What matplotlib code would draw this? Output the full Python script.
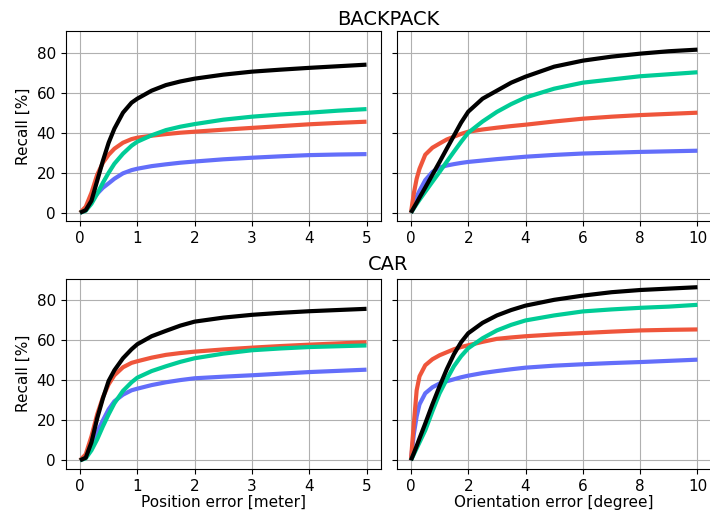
import matplotlib
matplotlib.use('Agg')
import matplotlib.pyplot as plt

# Recall curves
pos_err = [0, 0.1, 0.2, 0.3, 0.4, 0.5, 0.6, 0.75, 0.9, 1, 1.25, 1.5, 1.75, 2, 2.5, 3, 3.5, 4, 4.5, 5]
ori_err = [0, 0.1, 0.2, 0.3, 0.5, 0.75, 1, 1.25, 1.5, 1.75, 2, 2.5, 3, 3.5, 4, 5, 6, 7, 8, 9, 10]

# BACKPACK, position
bp_pos_blue  = [0, 1.5, 6, 9.5, 12.5, 14.7, 17, 19.7, 21.3, 22, 23.3, 24.2, 25, 25.6, 26.7, 27.5, 28.2, 28.8, 29.1, 29.3]
bp_pos_red   = [0, 3, 10, 19, 25, 29, 32, 35, 36.8, 37.5, 38.5, 39.3, 40, 40.5, 41.5, 42.4, 43.3, 44.2, 44.9, 45.5]
bp_pos_teal  = [0, 1, 4.5, 9.5, 15, 20, 24.5, 29.5, 33.5, 35.5, 38.7, 41.3, 43, 44.3, 46.5, 48, 49.1, 50, 51, 51.8]
bp_pos_black = [0, 1.3, 6, 16, 26, 35, 42, 50, 55, 57, 61, 63.8, 65.6, 67, 69, 70.5, 71.5, 72.4, 73.2, 74]

# BACKPACK, orientation
bp_ori_blue  = [0, 4.5, 8, 11, 16.3, 20.4, 22.6, 23.6, 24.3, 24.9, 25.4, 26.1, 26.8, 27.4, 28, 28.9, 29.6, 30, 30.4, 30.7, 31]
bp_ori_red   = [0, 9.6, 17, 22, 29, 32.5, 34.6, 36.6, 38, 39.4, 40.5, 41.6, 42.5, 43.3, 44, 45.6, 47, 48, 48.8, 49.4, 50]
bp_ori_teal  = [0, 2.2, 4.4, 6.5, 10.5, 15.5, 20.4, 25.5, 30.5, 35.4, 40, 45.6, 50.4, 54.3, 57.6, 62, 65, 66.6, 68.2, 69.2, 70.2]
bp_ori_black = [0, 2.5, 5, 7.6, 12.6, 19, 25.4, 32, 38.5, 45, 50.5, 57, 61, 65, 68, 73, 76, 78, 79.5, 80.7, 81.5]

# CAR, position
car_pos_blue  = [0, 2, 7.5, 14, 20, 25.5, 29.5, 32.8, 35, 35.8, 37.6, 39, 40.1, 41, 41.8, 42.5, 43.3, 44.1, 44.7, 45.3]
car_pos_red   = [0, 3, 12, 23, 31.5, 38, 42.5, 46.5, 48.7, 49.5, 51.3, 52.7, 53.6, 54.3, 55.4, 56.3, 57.1, 57.8, 58.4, 59]
car_pos_teal  = [0, 1, 5, 10.5, 17, 23, 28.5, 34.7, 39, 41.3, 44.6, 47, 49.2, 51, 53.3, 55, 55.9, 56.6, 57, 57.4]
car_pos_black = [0, 1.3, 9, 21, 31, 39.7, 45, 51, 55.5, 58, 62, 64.7, 67.3, 69.3, 71.3, 72.7, 73.7, 74.5, 75.1, 75.7]

# CAR, orientation
car_ori_blue  = [0, 13, 22, 28, 33.5, 36.5, 38.4, 39.5, 40.5, 41.5, 42.3, 43.6, 44.6, 45.5, 46.3, 47.3, 48, 48.6, 49.1, 49.7, 50.3]
car_ori_red   = [0, 18, 35, 42, 47.5, 50.5, 52.5, 54, 55.5, 56.6, 57.5, 59.2, 60.7, 61.4, 62, 62.9, 63.6, 64.3, 64.9, 65.2, 65.4]
car_ori_teal  = [0, 3, 6, 9, 15, 24.5, 33.5, 40.5, 47, 52, 56, 61, 64.9, 67.7, 69.9, 72.4, 74.4, 75.4, 76.2, 76.8, 77.7]
car_ori_black = [0, 3.5, 7.2, 11, 18.4, 28, 37, 45.5, 53, 59, 63.5, 68.7, 72.4, 75.1, 77.3, 80.2, 82.3, 84, 85.1, 85.8, 86.5]

colors = ['#636EFA', '#EF553B', '#00CC96', 'black']

fig, axes = plt.subplots(2, 2, figsize=(7.1, 5.12), dpi=100, sharey=True)
plt.subplots_adjust(left=0.0925, right=1.0025, top=0.9395, bottom=0.084,
                    wspace=0.05, hspace=0.3)

panels = [
    (axes[0, 0], pos_err, [bp_pos_blue, bp_pos_red, bp_pos_teal, bp_pos_black]),
    (axes[0, 1], ori_err, [bp_ori_blue, bp_ori_red, bp_ori_teal, bp_ori_black]),
    (axes[1, 0], pos_err, [car_pos_blue, car_pos_red, car_pos_teal, car_pos_black]),
    (axes[1, 1], ori_err, [car_ori_blue, car_ori_red, car_ori_teal, car_ori_black]),
]
for ax, x, series in panels:
    for y, c in zip(series, colors):
        ax.plot(x, y, '-', color=c, lw=3, solid_capstyle='butt', solid_joinstyle='round')
    ax.grid(True)
    ax.tick_params(labelsize=11)

axes[0, 0].set_xticks([0, 1, 2, 3, 4, 5])
axes[1, 0].set_xticks([0, 1, 2, 3, 4, 5])
axes[0, 1].set_xticks([0, 2, 4, 6, 8, 10])
axes[1, 1].set_xticks([0, 2, 4, 6, 8, 10])
axes[0, 0].set_yticks([0, 20, 40, 60, 80])

axes[0, 0].set_ylabel('Recall [%]', fontsize=11)
axes[1, 0].set_ylabel('Recall [%]', fontsize=11)
axes[1, 0].set_xlabel('Position error [meter]', fontsize=11, labelpad=1)
axes[1, 1].set_xlabel('Orientation error [degree]', fontsize=11, labelpad=1)

fig.text(0.547, 1 - 25 / 512, 'BACKPACK', ha='center', va='baseline', fontsize=14)
fig.text(0.547, 1 - 270 / 512, 'CAR', ha='center', va='baseline', fontsize=14)

plt.savefig('out.png', dpi=100)
